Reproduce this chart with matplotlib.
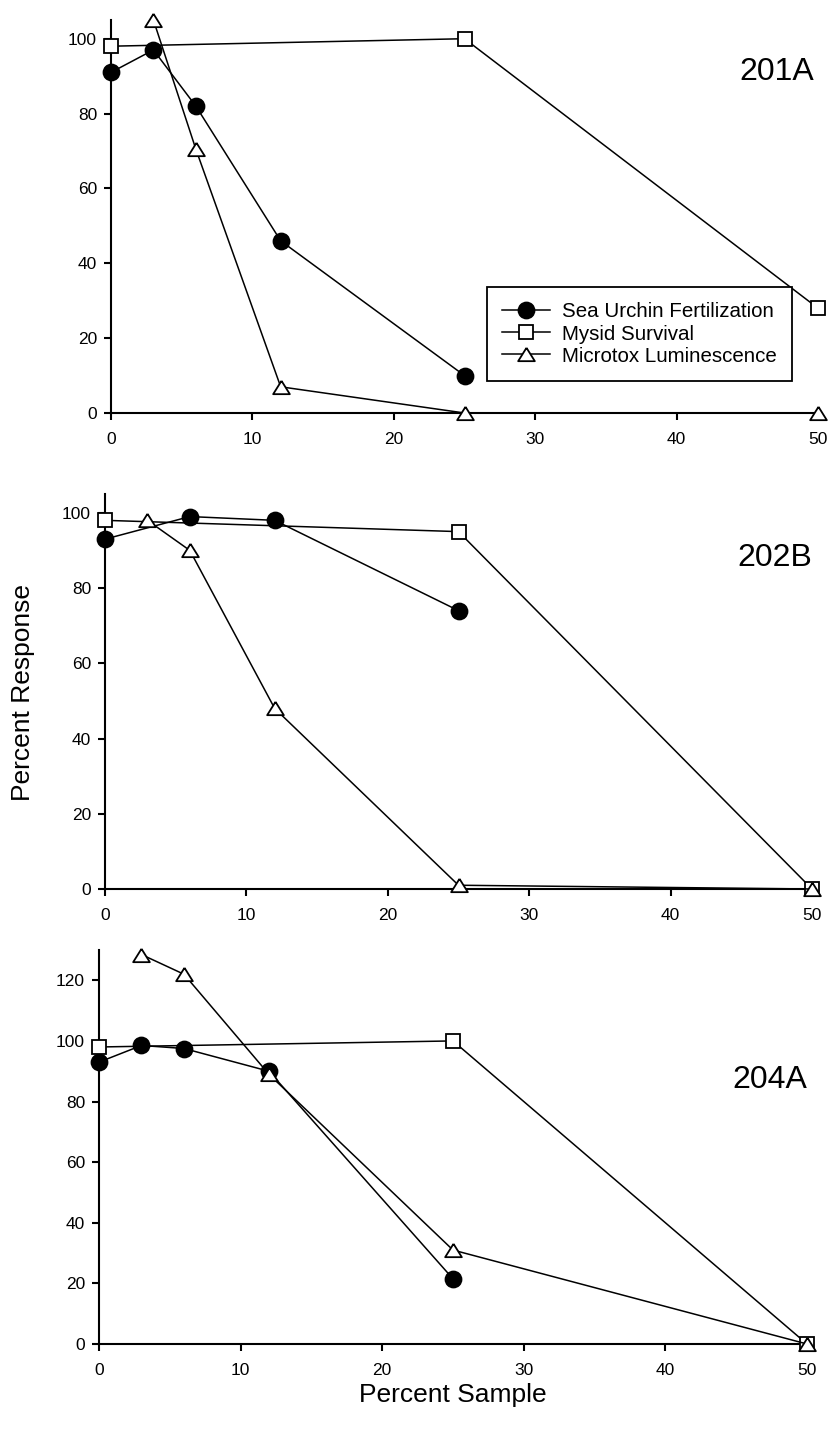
import numpy as np
import matplotlib
matplotlib.use('Agg')
import matplotlib.pyplot as plt

plt.rcParams['font.family'] = ['Liberation Sans', 'DejaVu Sans']

# Percent sample concentrations
urchin_x = [0, 3, 6, 12, 25]
urchin_x_202b = [0, 6, 12, 25]
mysid_x = [0, 25, 50]
microtox_x = [3, 6, 12, 25, 50]

# Station 201A
urchin_201a = [91, 97, 82, 46, 10]
mysid_201a = [98, 100, 28]
microtox_201a = [105, 70.5, 7, 0, 0]

# Station 202B
urchin_202b = [93, 99, 98, 74]
mysid_202b = [98, 95, 0]
microtox_202b = [98, 90, 48, 1, 0]

# Station 204A
urchin_204a = [93, 98.5, 97.5, 90, 21.5]
mysid_204a = [98, 100, 0]
microtox_204a = [128.5, 122, 89, 31, 0]

W, H = 832, 1435
fig = plt.figure(figsize=(W / 100, H / 100), dpi=100)

# flatter triangle like the original
tri = [(0, 0.8), (-1, -0.8), (1, -0.8), (0, 0.8)]

line_kw = dict(color='black', lw=1.1, mec='black', mew=1.3, clip_on=False)


def make_panel(left, right, top, bottom, ymax, yticks):
    ax = fig.add_axes([left / W, 1 - bottom / H, (right - left) / W, (bottom - top) / H])
    ax.set_xlim(0, 50)
    ax.set_ylim(0, ymax)
    ax.spines['top'].set_visible(False)
    ax.spines['right'].set_visible(False)
    ax.spines['left'].set_linewidth(1.5)
    ax.spines['bottom'].set_linewidth(1.5)
    ax.set_xticks([0, 10, 20, 30, 40, 50])
    ax.set_yticks(yticks)
    ax.tick_params(axis='both', direction='out', length=5, width=1.5, labelsize=12.5)
    ax.tick_params(axis='x', pad=9)
    ax.tick_params(axis='y', pad=5)
    return ax


def draw(ax, ux, u, m, t):
    ax.plot(ux, u, marker='o', ms=11.5, mfc='black', label='Sea Urchin Fertilization', zorder=3, **line_kw)
    ax.plot(mysid_x, m, marker='s', ms=10, mfc='white', label='Mysid Survival', zorder=3, **line_kw)
    ax.plot(microtox_x, t, marker=tri, ms=12, mfc='white', label='Microtox Luminescence', zorder=3, **line_kw)


ax1 = make_panel(111, 818, 20, 413, 105, [0, 20, 40, 60, 80, 100])
draw(ax1, urchin_x, urchin_201a, mysid_201a, microtox_201a)
ax1.text(0.995, 91 / 105, '201A', transform=ax1.transAxes, ha='right', va='center', fontsize=23)

ax2 = make_panel(105, 812, 494, 889, 105, [0, 20, 40, 60, 80, 100])
draw(ax2, urchin_x_202b, urchin_202b, mysid_202b, microtox_202b)
ax2.text(1.0, 88 / 105, '202B', transform=ax2.transAxes, ha='right', va='center', fontsize=23)

ax3 = make_panel(99, 807, 950, 1344, 130, [0, 20, 40, 60, 80, 100, 120])
draw(ax3, urchin_x, urchin_204a, mysid_204a, microtox_204a)
ax3.text(1.0, 87 / 130, '204A', transform=ax3.transAxes, ha='right', va='center', fontsize=23)

leg = ax1.legend(loc='upper left', bbox_to_anchor=(487 / W, 1 - 287 / H),
                 bbox_transform=fig.transFigure, borderaxespad=0, fontsize=14.8,
                 labelspacing=0.15, handlelength=2.3, handletextpad=0.6, borderpad=0.75,
                 fancybox=False, framealpha=1, edgecolor='black')
leg.get_frame().set_linewidth(1.3)

fig.text(23 / W, 1 - 692 / H, 'Percent Response', rotation=90, ha='center', va='center', fontsize=19)
fig.text(453 / W, 1 - 1395 / H, 'Percent Sample', ha='center', va='center', fontsize=19)

fig.savefig('out.png', dpi=100, facecolor='white')
